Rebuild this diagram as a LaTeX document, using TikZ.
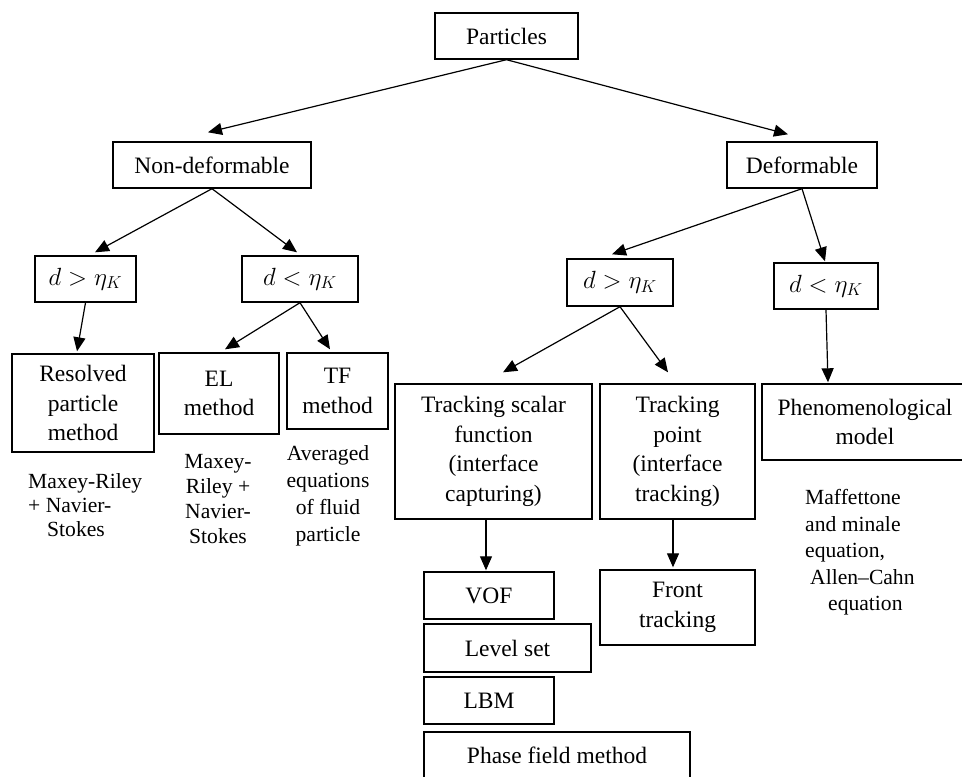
\documentclass[tikz,border=0pt]{standalone}
\usepackage{fontspec}
\setmainfont{Liberation Serif}
\usetikzlibrary{arrows.meta}
\tikzset{
  box/.style={draw=black, line width=1.4pt, inner sep=0pt, align=center,
    font=\fontsize{23.5}{29.5}\selectfont},
  note/.style={inner sep=0pt, font=\fontsize{21.6}{26.5}\selectfont},
  arr/.style={draw=black, line width=1.2pt, -{Triangle[length=14pt,width=12pt]}}
}
\begin{document}
\begin{tikzpicture}[x=1pt,y=-1pt]
\useasboundingbox (0,0) rectangle (962,777);
\clip (0,0) rectangle (962,777);
\fill[white] (0,0) rectangle (962,777);
% boxes
\node[box, minimum width=143pt, minimum height=46pt] (particles) at (506.5,36) {Particles};
\node[box, minimum width=198pt, minimum height=46pt] (nondef) at (212,165) {Non-deformable};
\node[box, minimum width=150pt, minimum height=46pt] (deform) at (802,165) {Deformable};
\node[box, minimum width=101pt, minimum height=46pt] (dgl) at (85.5,279) {$d > \eta_K$};
\node[box, minimum width=116pt, minimum height=46pt] (dll) at (300,279) {$d < \eta_K$};
\node[box, minimum width=106pt, minimum height=47pt] (dgr) at (620,282.5) {$d > \eta_K$};
\node[box, minimum width=104pt, minimum height=46pt] (dlr) at (826,286) {$d < \eta_K$};
\node[box, minimum width=142pt, minimum height=98pt] (resolved) at (83,403) {Resolved\\particle\\method};
\node[box, minimum width=120pt, minimum height=81pt] (el) at (219,393.5) {EL\\method};
\node[box, minimum width=101pt, minimum height=76pt] (tf) at (337.5,391) {TF\\method};
\node[box, minimum width=197pt, minimum height=135pt] (scalar) at (493.5,451.5) {Tracking scalar\\function\\(interface\\capturing)};
\node[box, minimum width=155pt, minimum height=135pt] (point) at (677.5,451.5) {Tracking\\point\\(interface\\tracking)};
\node[box, minimum width=206pt, minimum height=76pt] (phen) at (865,422) {Phenomenological\\model};
\node[box, minimum width=130pt, minimum height=47pt] (vof) at (489,595.5) {VOF};
\node[box, minimum width=167pt, minimum height=48pt] (level) at (507.5,648) {Level set};
\node[box, minimum width=130pt, minimum height=47pt] (lbm) at (489,700.5) {LBM};
\node[box, minimum width=266pt, minimum height=47pt] (phase) at (557,755.5) {Phase field method};
\node[box, minimum width=155pt, minimum height=75pt] (front) at (677.5,607.5) {Front\\tracking};
% notes
\node[note, align=left, anchor=west, font=\fontsize{21.6}{24}\selectfont] (n1) at (28,505.5) {Maxey-Riley\\+ Navier-\\\hspace*{19pt}Stokes};
\node[note, align=center, font=\fontsize{21.6}{25}\selectfont] (n2) at (218,499.5) {Maxey-\\Riley +\\Navier-\\Stokes};
\node[note, align=center, font=\fontsize{21.6}{27}\selectfont] (n3) at (328,496) {Averaged\\equations\\of fluid\\particle};
\node[note, align=left, anchor=west] (n4) at (805,552.5) {Maffettone\\and minale\\equation,\\\hspace*{5pt}Allen–Cahn\\\hspace*{23pt}equation};
% arrows
\draw[arr] (particles.south) -- ([xshift=-4pt,yshift=9pt]nondef.north);
\draw[arr] (particles.south) -- ([xshift=-14pt,yshift=7pt]deform.north);
\draw[arr] (nondef.south) -- ([xshift=9.5pt,yshift=3pt]dgl.north);
\draw[arr] (nondef.south) -- ([xshift=-3pt,yshift=3pt]dll.north);
\draw[arr] (dgl.south) -- ([xshift=-6pt,yshift=2pt]resolved.north);
\draw[arr] (dll.south) -- ([xshift=6pt,yshift=3pt]el.north);
\draw[arr] (dll.south) -- ([xshift=-7.5pt,yshift=3pt]tf.north);
\draw[arr] (deform.south) -- ([xshift=-8pt,yshift=4pt]dgr.north);
\draw[arr] (deform.south) -- ([xshift=-1pt,yshift=1pt]dlr.north);
\draw[arr] (dgr.south) -- ([xshift=9.5pt,yshift=11pt]scalar.north);
\draw[arr] (dgr.south) -- ([xshift=-9.5pt,yshift=11pt]point.north);
\draw[arr] (dlr.south) -- ([xshift=-37pt,yshift=1pt]phen.north);
\draw[arr] ([xshift=-7.5pt]scalar.south) -- ([xshift=-3pt,yshift=1pt]vof.north);
\draw[arr] ([xshift=-4.5pt]point.south) -- ([xshift=-4.5pt,yshift=2pt]front.north);
\end{tikzpicture}
\end{document}
